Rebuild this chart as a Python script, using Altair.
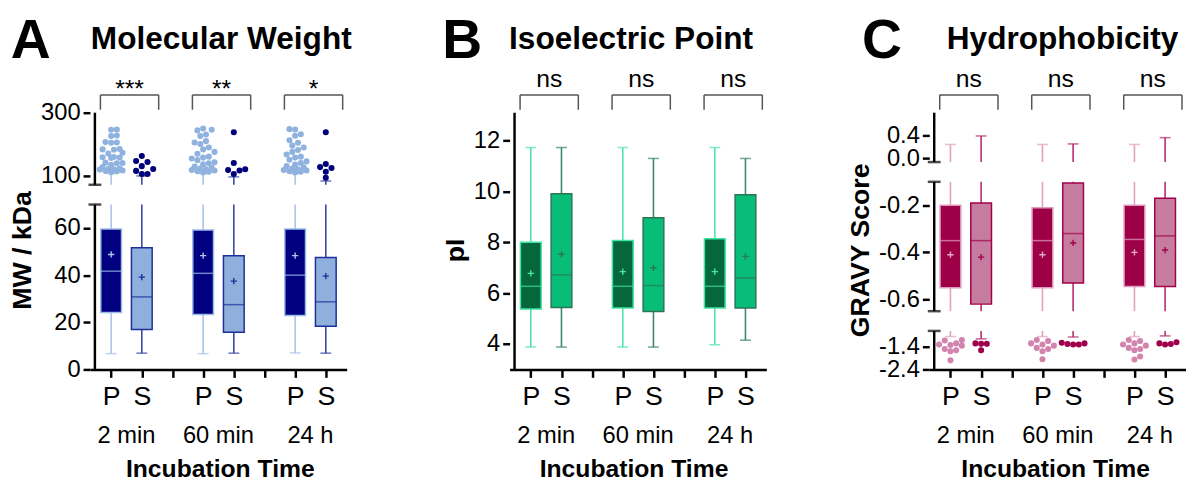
import altair as alt
import pandas as pd

FONT = "Liberation Sans, Arial, Helvetica, sans-serif"

# ---------------- data ----------------
groups = ["2 min", "60 min", "24 h"]
fractions = ["P", "S"]

# box order: 2 min P, 2 min S, 60 min P, 60 min S, 24 h P, 24 h S
mw_q1 = [24.2, 17.0, 23.3, 15.8, 22.9, 18.3]
mw_median = [41.7, 30.8, 40.8, 27.5, 40.0, 28.7]
mw_q3 = [59.6, 51.7, 59.2, 48.3, 59.6, 47.5]
mw_mean = [48.8, 39.2, 48.3, 37.5, 48.3, 39.6]
mw_low = [6.7, 6.9, 6.7, 6.9, 7.0, 6.9]
mw_high = [108, 100, 108, 97, 108, 84]
mw_out_2min_P = [247, 246, 228, 226, 207, 206, 205, 185, 184, 183, 173, 171, 160, 159,
                 158, 157, 142, 141, 140, 135, 128, 123, 122, 121, 120, 117, 116, 115, 112]
mw_out_2min_S = [163, 147, 144, 131, 122, 116, 106, 106]
mw_out_60min_P = [250, 246, 244, 231, 226, 210, 206, 201, 190, 184, 176, 170, 161, 158,
                  155, 150, 143, 140, 137, 130, 126, 123, 121, 119, 117, 115, 113, 111]
mw_out_60min_S = [238, 141, 121, 119, 117, 106]
mw_out_24h_P = [248, 247, 232, 227, 213, 205, 196, 190, 182, 176, 168, 161, 158, 151,
                146, 141, 136, 131, 127, 123, 121, 119, 117, 115, 113, 111]
mw_out_24h_S = [238, 138, 128, 125, 113, 94]
mw_sig = ["***", "**", "*"]

pi_q1 = [5.38, 5.44, 5.42, 5.28, 5.42, 5.42]
pi_median = [6.27, 6.72, 6.27, 6.30, 6.27, 6.60]
pi_q3 = [8.00, 9.91, 8.07, 8.97, 8.14, 9.87]
pi_mean = [6.78, 7.53, 6.85, 7.00, 6.85, 7.45]
pi_low = [3.88, 3.88, 3.88, 3.88, 3.97, 4.15]
pi_high = [11.73, 11.73, 11.73, 11.30, 11.73, 11.30]
pi_sig = ["ns", "ns", "ns"]

gravy_q1 = [-0.55, -0.62, -0.55, -0.53, -0.545, -0.545]
gravy_median = [-0.35, -0.35, -0.35, -0.32, -0.345, -0.33]
gravy_q3 = [-0.20, -0.19, -0.21, -0.105, -0.20, -0.17]
gravy_mean = [-0.41, -0.42, -0.41, -0.36, -0.40, -0.39]
gravy_low = [-0.95, -1.05, -0.95, -0.97, -0.95, -0.92]
gravy_high = [0.24, 0.39, 0.24, 0.25, 0.24, 0.36]
gravy_out_2min_P = [-1.10, -1.12, -1.25, -1.30, -1.32, -1.35, -1.50, -1.55, -1.60, -2.00]
gravy_out_2min_S = [-1.25, -1.27, -1.27, -1.55]
gravy_out_60min_P = [-1.10, -1.15, -1.25, -1.30, -1.35, -1.45, -1.50, -1.60, -1.95]
gravy_out_60min_S = [-1.22, -1.25, -1.28, -1.30, -1.30]
gravy_out_24h_P = [-1.10, -1.15, -1.25, -1.30, -1.35, -1.45, -1.50, -1.55, -1.83, -1.96]
gravy_out_24h_S = [-1.20, -1.25, -1.28, -1.30]
gravy_sig = ["ns", "ns", "ns"]

# ---------------- layout / style ----------------
W, H = 260, 260
XDOM = [0.47, 8.52]
XPX = W / (XDOM[1] - XDOM[0])

panels = [
    dict(letter="A", title="Molecular Weight", ytitle="MW / kDa",
         q1=mw_q1, med=mw_median, q3=mw_q3, mean=mw_mean, low=mw_low, high=mw_high,
         out=[mw_out_2min_P, mw_out_2min_S, mw_out_60min_P, mw_out_60min_S, mw_out_24h_P, mw_out_24h_S],
         sig=mw_sig, sig_y=-16,
         ydomain=[0, 70, 72, 300], yrange=[260, 93, 73, 0], segments=[(0, 70), (72, 300)],
         yticks=[0, 20, 40, 60, 100, 300], fmt="format(datum.value, 'd')", ypx=0.32,
         letter_x=-60, title_x=133, xt_x=132,
         col={"P": dict(fill="#000080", stroke="#9dbde6", whisk="#a9c5ea", pt="#8fb2df", mean="#a9c5ea"),
              "S": dict(fill="#8fb0dc", stroke="#1f2f9a", whisk="#3b48a8", pt="#00007a", mean="#1f2f9a")}),
    dict(letter="B", title="Isoelectric Point", ytitle="pI",
         q1=pi_q1, med=pi_median, q3=pi_q3, mean=pi_mean, low=pi_low, high=pi_high,
         out=[[], [], [], [], [], []],
         sig=pi_sig, sig_y=-26,
         ydomain=[3, 13.1], yrange=[260, 0], segments=[(3, 13.1)],
         yticks=[4, 6, 8, 10, 12], fmt="format(datum.value, 'd')", ypx=25.7,
         letter_x=-48, title_x=123, xt_x=126,
         col={"P": dict(fill="#06663c", stroke="#3fe3a1", whisk="#52e4a9", pt="#52e4a9", mean="#4ae8a5"),
              "S": dict(fill="#08bd78", stroke="#2c7658", whisk="#3c8868", pt="#2c7658", mean="#2c7658")}),
    dict(letter="C", title="Hydrophobicity", ytitle="GRAVY Score",
         q1=gravy_q1, med=gravy_median, q3=gravy_q3, mean=gravy_mean, low=gravy_low, high=gravy_high,
         out=[gravy_out_2min_P, gravy_out_2min_S, gravy_out_60min_P, gravy_out_60min_S, gravy_out_24h_P, gravy_out_24h_S],
         sig=gravy_sig, sig_y=-26,
         ydomain=[-2.4, -0.7, -0.65, -0.1, -0.07, 0.8], yrange=[260, 221, 201, 70, 50, 0],
         segments=[(-2.4, -0.7), (-0.65, -0.1), (-0.07, 0.8)],
         yticks=[-2.4, -1.4, -0.6, -0.4, -0.2, 0.0, 0.4],
         fmt="replace(format(datum.value, '.1f'), '\u2212', '-')", ypx=23.0,
         letter_x=-48, title_x=135, xt_x=128,
         col={"P": dict(fill="#9e0047", stroke="#df9bbd", whisk="#e0a0c0", pt="#d283ae", mean="#e6a8c8"),
              "S": dict(fill="#c67c9f", stroke="#a3004c", whisk="#b52d6e", pt="#a0004a", mean="#a3004c")}),
]


def swarm_offsets(values, ypx_per_unit, diam=6.0, max_off=12.0, step=3.0):
    placed = []
    res = [0.0] * len(values)
    cands = [0.0]
    k = 1
    while k * step <= max_off + 1e-9:
        cands += [k * step, -k * step]
        k += 1
    for i in sorted(range(len(values)), key=lambda j: values[j]):
        yp = values[i] * ypx_per_unit
        best, best_d = 0.0, -1.0
        for c in cands:
            dists = [((yp - py) ** 2 + (c - px) ** 2) ** 0.5 for py, px in placed]
            dmin = min(dists) if dists else 1e9
            if dmin >= diam:
                best = c
                break
            if dmin > best_d:
                best_d, best = dmin, c
        placed.append((yp, best))
        res[i] = best / XPX
    return res


def clip(lo, hi, segments):
    out = []
    for s0, s1 in segments:
        a, b = max(lo, s0), min(hi, s1)
        if a < b:
            out.append((a, b))
    return out


def inside(v, segments):
    return any(s0 <= v <= s1 for s0, s1 in segments)


def make_panel(cfg):
    segs = cfg["segments"]
    boxes, whisk, caps, outs = [], [], [], []
    for g in range(3):
        for fi, f in enumerate(fractions):
            i = 2 * g + fi
            pos = 3 * g + 1 + fi
            boxes.append(dict(x=pos, f=f, q1=cfg["q1"][i], q3=cfg["q3"][i],
                              med=cfg["med"][i], mean=cfg["mean"][i]))
            for lo, hi in [(cfg["low"][i], cfg["q1"][i]), (cfg["q3"][i], cfg["high"][i])]:
                for a, b in clip(lo, hi, segs):
                    whisk.append(dict(x=pos, f=f, y=a, y2=b))
            for v in (cfg["low"][i], cfg["high"][i]):
                if inside(v, segs):
                    caps.append(dict(x=pos, f=f, y=v))
            vals = cfg["out"][i]
            offs = swarm_offsets(vals, cfg["ypx"])
            for v, o in zip(vals, offs):
                outs.append(dict(x=pos + o, f=f, y=v))
    df_box = pd.DataFrame(boxes)
    df_wh = pd.DataFrame(whisk)
    df_cap = pd.DataFrame(caps)
    df_out = pd.DataFrame(outs, columns=["x", "f", "y"])

    xscale = alt.Scale(domain=XDOM, nice=False, zero=False)
    xaxis = alt.Axis(values=[1, 2, 3, 4, 5, 6, 7, 8],
                     labelExpr="['','P','S','','P','S','','P','S'][datum.value]",
                     title=None, grid=False, domain=True, domainColor="black", domainWidth=2.5,
                     ticks=True, tickColor="black", tickWidth=2.5, tickSize=8,
                     labelFontSize=27, labelColor="black", labelPadding=7,
                     labelOverlap=False, labelFlush=False)
    yscale = alt.Scale(domain=cfg["ydomain"], range=cfg["yrange"], nice=False, zero=False)
    yaxis = alt.Axis(values=cfg["yticks"], labelExpr=cfg["fmt"], title=cfg["ytitle"],
                     grid=False, domain=False, ticks=True, tickColor="black", tickWidth=2.5,
                     tickSize=7, labelFontSize=24, labelColor="black", labelPadding=3,
                     labelOverlap=False, labelFlush=False,
                     titleFontSize=27, titleFontWeight="bold", titleColor="black",
                     titleY=139, titlePadding=4)

    def X(field):
        return alt.X(field, type="quantitative", scale=xscale, axis=xaxis)

    def Y(field):
        return alt.Y(field, type="quantitative", scale=yscale, axis=yaxis)

    layers = []
    # y axis segments drawn as rules with caps at the breaks
    ax_df = pd.DataFrame([dict(x=XDOM[0], y=a, y2=b) for a, b in segs])
    layers.append(alt.Chart(ax_df).mark_rule(color="black", strokeWidth=2.5)
                  .encode(x=X("x"), y=Y("y"), y2="y2"))
    breaks = []
    for k, (a, b) in enumerate(segs):
        if k > 0:
            breaks.append(a)
        if k < len(segs) - 1:
            breaks.append(b)
    if breaks:
        brk_df = pd.DataFrame(dict(x=[XDOM[0]] * len(breaks), y=breaks))
        layers.append(alt.Chart(brk_df).mark_tick(orient="horizontal", size=13, thickness=2.5, color="black")
                      .encode(x=X("x"), y=Y("y")))

    for f in fractions:
        c = cfg["col"][f]
        wh = df_wh[df_wh.f == f]
        layers.append(alt.Chart(wh).mark_rule(color=c["whisk"], strokeWidth=1.6)
                      .encode(x=X("x"), y=Y("y"), y2="y2"))
        cp = df_cap[df_cap.f == f]
        if len(cp):
            layers.append(alt.Chart(cp).mark_tick(orient="horizontal", size=11, thickness=1.6, color=c["whisk"])
                          .encode(x=X("x"), y=Y("y")))
    for f in fractions:
        c = cfg["col"][f]
        bx = df_box[df_box.f == f]
        layers.append(alt.Chart(bx).mark_bar(size=21, fill=c["fill"], stroke=c["stroke"], strokeWidth=1.5)
                      .encode(x=X("x"), y=Y("q1"), y2="q3"))
        layers.append(alt.Chart(bx).mark_tick(orient="horizontal", size=21, thickness=1.5, color=c["stroke"])
                      .encode(x=X("x"), y=Y("med")))
        layers.append(alt.Chart(bx).mark_point(shape="M-1,0L1,0M0,-1L0,1", size=40, filled=False,
                                               strokeWidth=1.4, color=c["mean"], opacity=1)
                      .encode(x=X("x"), y=Y("mean")))
    for f in fractions:
        c = cfg["col"][f]
        od = df_out[df_out.f == f]
        if len(od):
            layers.append(alt.Chart(od).mark_circle(size=38, color=c["pt"], opacity=1)
                          .encode(x=X("x"), y=Y("y")))

    # significance brackets and labels
    centers = [3 * g + 1.5 for g in range(3)]
    br = pd.DataFrame(dict(x0=[cc - 0.85 for cc in centers], x1=[cc + 1.05 for cc in centers],
                           t=cfg["sig"], xc=[cc + 0.1 for cc in centers]))
    layers.append(alt.Chart(br).mark_rule(color="#555555", strokeWidth=1.5)
                  .encode(x=X("x0"), x2="x1", y=alt.value(-18)))
    legs = pd.DataFrame(dict(x=list(br.x0) + list(br.x1)))
    layers.append(alt.Chart(legs).mark_rule(color="#555555", strokeWidth=1.5)
                  .encode(x=X("x"), y=alt.value(-18), y2=alt.value(-3)))
    layers.append(alt.Chart(br).mark_text(fontSize=25, color="black", baseline="alphabetic")
                  .encode(x=X("xc"), y=alt.value(cfg["sig_y"]), text="t:N"))

    # group labels under the axis
    gl = pd.DataFrame(dict(x=centers, t=groups))
    layers.append(alt.Chart(gl).mark_text(fontSize=24, color="black", baseline="middle")
                  .encode(x=X("x"), y=alt.value(H + 68), text="t:N"))
    # x axis title
    layers.append(alt.Chart(pd.DataFrame(dict(t=["Incubation Time"])))
                  .mark_text(fontSize=25, fontWeight="bold", color="black", baseline="middle")
                  .encode(x=alt.value(cfg["xt_x"]), y=alt.value(H + 101), text="t:N"))
    # panel letter and title
    layers.append(alt.Chart(pd.DataFrame(dict(t=[cfg["letter"]])))
                  .mark_text(fontSize=56, fontWeight="bold", color="black", baseline="alphabetic")
                  .encode(x=alt.value(cfg["letter_x"]), y=alt.value(-55), text="t:N"))
    layers.append(alt.Chart(pd.DataFrame(dict(t=[cfg["title"]])))
                  .mark_text(fontSize=32, fontWeight="bold", color="black", baseline="alphabetic")
                  .encode(x=alt.value(cfg["title_x"]), y=alt.value(-65), text="t:N"))

    return alt.layer(*layers).properties(width=W, height=H)


chart = (
    alt.hconcat(*[make_panel(p) for p in panels], spacing=165, bounds="flush")
    .properties(padding={"left": 0, "top": 3, "right": 0, "bottom": 0})
    .configure(font=FONT, view=alt.ViewConfig(stroke=None))
)

chart.save("out.html", embed_options={"renderer": "svg", "actions": False})
